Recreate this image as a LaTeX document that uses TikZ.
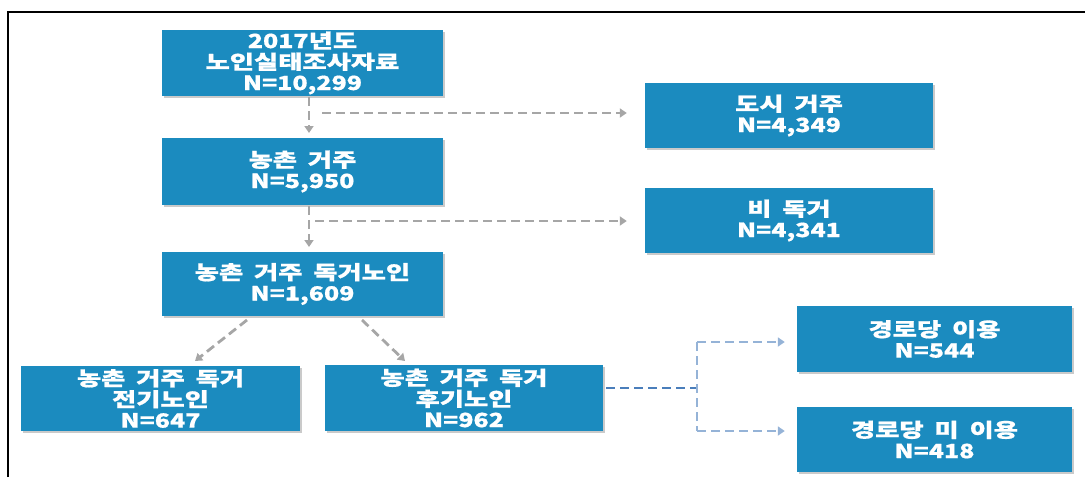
\documentclass[tikz,border=0pt]{standalone}
\usepackage{fontspec}
\usetikzlibrary{arrows.meta,shadows}
\newfontfamily\kr{Noto Sans CJK KR}[FakeStretch=1.35,WordSpace=1.8,BoldFeatures={FakeBold=0.8}]
\newfontfamily\nm{Noto Sans CJK KR}[FakeStretch=1.28,BoldFeatures={FakeBold=0.8}]
\definecolor{boxblue}{HTML}{1B8BBF}
\definecolor{arrgray}{HTML}{A6A6A6}
\definecolor{arrblue}{HTML}{4A7EBB}
\definecolor{arrlblue}{HTML}{95B3D7}
\tikzset{
  fbox/.style={rectangle, fill=boxblue, text=white, align=center, inner sep=0pt,
    font=\kr\bfseries\fontsize{19.5}{21}\selectfont,
    drop shadow={shadow xshift=2pt, shadow yshift=-2pt, opacity=0.35, fill=black!60}},
  garrow/.style={draw=arrgray, line width=2.8pt, dash pattern=on 9pt off 5pt,
    -{Triangle[length=7pt,width=9pt]}},
  barrow/.style={draw=arrlblue, line width=2.8pt, dash pattern=on 9pt off 5pt,
    -{Triangle[length=7pt,width=9pt]}},
  bline/.style={draw=arrblue, line width=2.8pt, dash pattern=on 9pt off 5pt},
  bvline/.style={draw=arrlblue, line width=2.8pt, dash pattern=on 9pt off 5pt},
}
\begin{document}
\begin{tikzpicture}[x=1pt,y=-1pt]
\useasboundingbox (0,0) rectangle (1085,477);
\draw[line width=1.5pt] (8,477) -- (8,12) -- (1085,12);

\node[fbox, minimum width=281pt, minimum height=66pt] (b1) at (302.5,63)
  {{\nm 2017}년도\\노인실태조사자료\\{\nm N=10,299}};
\node[fbox, minimum width=281pt, minimum height=67pt] (b2) at (302.5,171.5)
  {농촌 거주\\{\nm N=5,950}};
\node[fbox, minimum width=281pt, minimum height=64pt] (b3) at (302.5,284)
  {농촌 거주 독거노인\\{\nm N=1,609}};
\node[fbox, minimum width=288pt, minimum height=65pt] (city) at (789,115.5)
  {도시 거주\\{\nm N=4,349}};
\node[fbox, minimum width=288pt, minimum height=65pt] (nonalone) at (789,220.5)
  {비 독거\\{\nm N=4,341}};
\node[fbox, minimum width=279pt, minimum height=65pt] (early) at (160.5,398.5)
  {농촌 거주 독거\\전기노인\\{\nm N=647}};
\node[fbox, minimum width=278pt, minimum height=66pt] (late) at (464,398)
  {농촌 거주 독거\\후기노인\\{\nm N=962}};
\node[fbox, minimum width=275pt, minimum height=66pt] (use) at (934.5,339)
  {경로당 이용\\{\nm N=544}};
\node[fbox, minimum width=275pt, minimum height=65pt] (nouse) at (934.5,439.5)
  {경로당 미 이용\\{\nm N=418}};

% gray connectors
\draw[garrow, shorten <=1pt, shorten >=5pt] (309,96) coordinate (v1s) -- (309,138);
\coordinate (h1s) at (322,113);
\draw[garrow, shorten >=18pt] (h1s) -- (city.west |- h1s);
\draw[garrow, shorten <=1pt, shorten >=5pt] (309,205) coordinate (v2s) -- (309,252);
\coordinate (h2s) at (315,221);
\draw[garrow, shorten >=18pt] (h2s) -- (nonalone.west |- h2s);
\coordinate (d1s) at (247,320);
\coordinate (d1e) at (195,361);
\draw[garrow] (d1s) -- (d1e);
\coordinate (d2s) at (362,320);
\coordinate (d2e) at (405,361);
\draw[garrow] (d2s) -- (d2e);

% blue connectors
\coordinate (j) at (697,388);
\draw[bline, shorten <=3pt] (late.east |- j) -- (j);
\draw[bvline] (697,342) -- (697,431);
\draw[barrow, shorten >=12pt] (697,342) -- (use.west |- 0,342);
\draw[barrow, shorten >=12pt] (697,431) -- (nouse.west |- 0,431);
\end{tikzpicture}
\end{document}
